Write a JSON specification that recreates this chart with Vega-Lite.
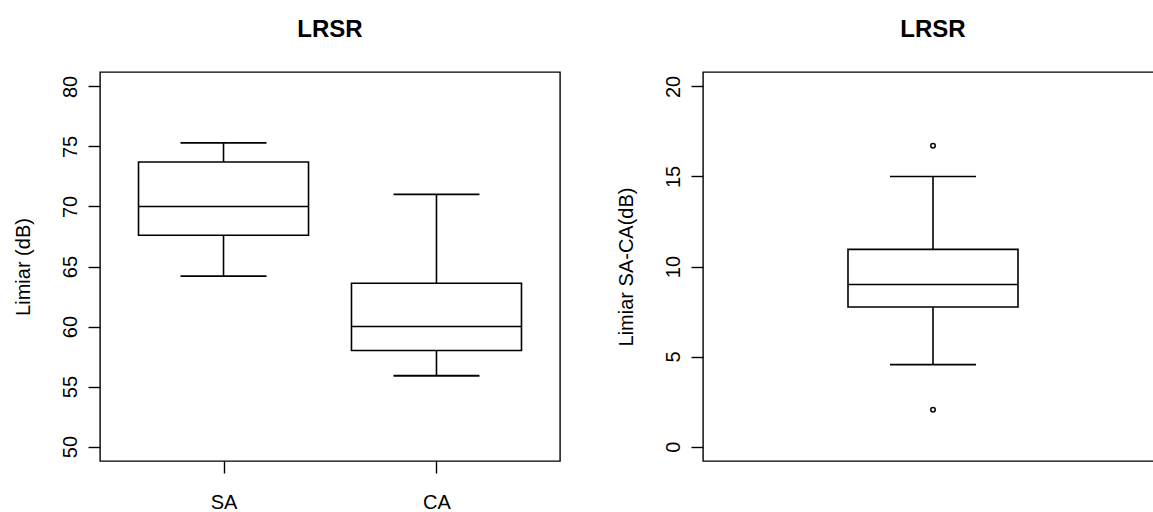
{
  "$schema": "https://vega.github.io/schema/vega-lite/v6.json",
  "background": "white",
  "padding": {"left": 12, "top": 17, "right": 0, "bottom": 0},
  "datasets": {
    "caixas_lrsr": [
      {"grupo": "SA", "lower": 64.2, "q1": 67.6, "median": 70.0, "q3": 73.7, "upper": 75.3},
      {"grupo": "CA", "lower": 55.9, "q1": 58.0, "median": 60.0, "q3": 63.6, "upper": 71.0}
    ],
    "caixa_diferenca": [
      {"grupo": "SA-CA", "lower": 4.55, "q1": 7.75, "median": 9.0, "q3": 10.95, "upper": 15.0}
    ],
    "outliers_diferenca": [
      {"grupo": "SA-CA", "valor": 16.7},
      {"grupo": "SA-CA", "valor": 2.05}
    ]
  },
  "config": {
    "font": "Liberation Sans",
    "view": {"stroke": "black", "strokeWidth": 1.4},
    "axis": {
      "grid": false, "domain": false, "tickColor": "black", "tickSize": 12, "tickWidth": 1.4,
      "labelColor": "black", "labelFontSize": 20, "labelFont": "Liberation Sans",
      "titleFont": "Liberation Sans", "titleFontSize": 20, "titleFontWeight": "normal", "titleColor": "black"
    },
    "title": {"font": "Liberation Sans", "fontSize": 24, "fontWeight": "bold", "color": "black", "anchor": "middle"},
    "concat": {"spacing": 54}
  },
  "hconcat": [
    {
      "width": 460, "height": 389,
      "title": {"text": "LRSR", "offset": 11, "baseline": "alphabetic"},
      "data": {"name": "caixas_lrsr"},
      "encoding": {
        "x": {"field": "grupo", "type": "nominal", "sort": ["SA", "CA"],
              "scale": {"type": "point", "padding": 0.58},
              "axis": {"title": null, "labelAngle": 0, "labelPadding": 19, "labelBaseline": "top", "labelAlign": "center"}}
      },
      "layer": [
        {"mark": {"type": "rule", "color": "black", "strokeWidth": 1.6},
         "encoding": {
           "y": {"field": "lower", "type": "quantitative",
                 "scale": {"domain": [48.8, 81.2], "nice": false, "zero": false},
                 "axis": {"title": "Limiar (dB)", "values": [50, 55, 60, 65, 70, 75, 80],
                          "labelAngle": 270, "labelAlign": "center", "labelBaseline": "bottom", "labelPadding": 8,
                          "titleX": -66.5, "titleY": 194.5, "titleAngle": 270, "titleAlign": "center", "titleBaseline": "bottom"}},
           "y2": {"field": "upper"}}},
        {"mark": {"type": "bar", "fill": "white", "stroke": "black", "strokeWidth": 1.6, "size": 170},
         "encoding": {"y": {"field": "q1", "type": "quantitative"}, "y2": {"field": "q3"}}},
        {"mark": {"type": "tick", "color": "black", "opacity": 1, "size": 170, "thickness": 1.6},
         "encoding": {"y": {"field": "median", "type": "quantitative"}}},
        {"mark": {"type": "tick", "color": "black", "opacity": 1, "size": 86, "thickness": 1.8},
         "encoding": {"y": {"field": "lower", "type": "quantitative"}}},
        {"mark": {"type": "tick", "color": "black", "opacity": 1, "size": 86, "thickness": 1.8},
         "encoding": {"y": {"field": "upper", "type": "quantitative"}}}
      ]
    },
    {
      "width": 460, "height": 389,
      "title": {"text": "LRSR", "offset": 11, "baseline": "alphabetic"},
      "encoding": {
        "x": {"field": "grupo", "type": "nominal", "scale": {"type": "point", "padding": 0.5}, "axis": null}
      },
      "layer": [
        {"data": {"name": "caixa_diferenca"},
         "mark": {"type": "rule", "color": "black", "strokeWidth": 1.6},
         "encoding": {
           "y": {"field": "lower", "type": "quantitative",
                 "scale": {"domain": [-0.8, 20.8], "nice": false, "zero": false},
                 "axis": {"title": "Limiar SA-CA(dB)", "values": [0, 5, 10, 15, 20],
                          "labelAngle": 270, "labelAlign": "center", "labelBaseline": "bottom", "labelPadding": 8,
                          "titleX": -66.5, "titleY": 194.5, "titleAngle": 270, "titleAlign": "center", "titleBaseline": "bottom"}},
           "y2": {"field": "upper"}}},
        {"data": {"name": "caixa_diferenca"},
         "mark": {"type": "bar", "fill": "white", "stroke": "black", "strokeWidth": 1.6, "size": 170},
         "encoding": {"y": {"field": "q1", "type": "quantitative"}, "y2": {"field": "q3"}}},
        {"data": {"name": "caixa_diferenca"},
         "mark": {"type": "tick", "color": "black", "opacity": 1, "size": 170, "thickness": 1.6},
         "encoding": {"y": {"field": "median", "type": "quantitative"}}},
        {"data": {"name": "caixa_diferenca"},
         "mark": {"type": "tick", "color": "black", "opacity": 1, "size": 86, "thickness": 1.6},
         "encoding": {"y": {"field": "lower", "type": "quantitative"}}},
        {"data": {"name": "caixa_diferenca"},
         "mark": {"type": "tick", "color": "black", "opacity": 1, "size": 86, "thickness": 1.6},
         "encoding": {"y": {"field": "upper", "type": "quantitative"}}},
        {"data": {"name": "outliers_diferenca"},
         "mark": {"type": "point", "shape": "circle", "filled": false, "color": "black", "opacity": 1, "size": 20, "strokeWidth": 1.5},
         "encoding": {"y": {"field": "valor", "type": "quantitative"}}}
      ]
    }
  ]
}
